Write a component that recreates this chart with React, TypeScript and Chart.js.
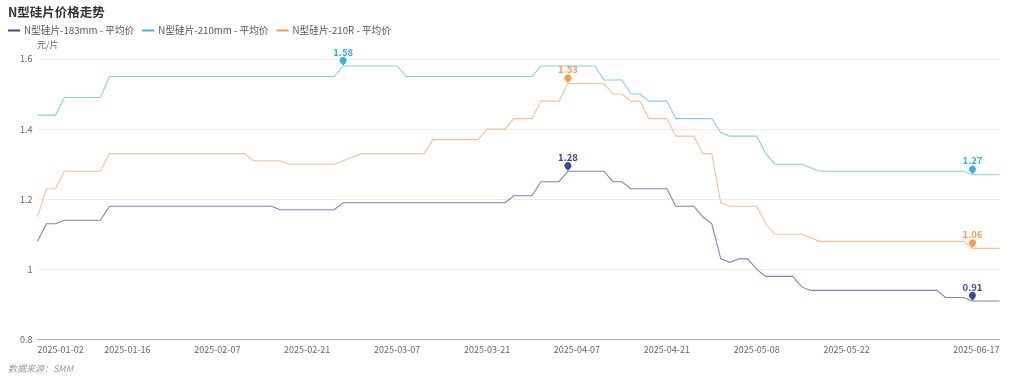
import React, { useEffect, useRef } from 'react';
import { Chart, registerables } from 'chart.js';

Chart.register(...registerables);

const FONT = '"Microsoft YaHei", "Noto Sans CJK SC", sans-serif';

const chartTitle = 'N型硅片价格走势';
const unitLabel = '元/片';
const sourceLabel = '数据来源：SMM';

const dates = [
  '2025-01-02', '2025-01-03', '2025-01-06', '2025-01-07', '2025-01-08', '2025-01-09', '2025-01-10',
  '2025-01-13', '2025-01-14', '2025-01-15', '2025-01-16', '2025-01-17', '2025-01-20', '2025-01-21',
  '2025-01-22', '2025-01-23', '2025-01-24', '2025-01-27',
  '2025-02-05', '2025-02-06', '2025-02-07', '2025-02-10', '2025-02-11', '2025-02-12', '2025-02-13',
  '2025-02-14', '2025-02-17', '2025-02-18', '2025-02-19', '2025-02-20', '2025-02-21', '2025-02-24',
  '2025-02-25', '2025-02-26', '2025-02-27', '2025-02-28',
  '2025-03-03', '2025-03-04', '2025-03-05', '2025-03-06', '2025-03-07', '2025-03-10', '2025-03-11',
  '2025-03-12', '2025-03-13', '2025-03-14', '2025-03-17', '2025-03-18', '2025-03-19', '2025-03-20',
  '2025-03-21', '2025-03-24', '2025-03-25', '2025-03-26', '2025-03-27', '2025-03-28', '2025-03-31',
  '2025-04-01', '2025-04-02', '2025-04-03', '2025-04-07', '2025-04-08', '2025-04-09', '2025-04-10',
  '2025-04-11', '2025-04-14', '2025-04-15', '2025-04-16', '2025-04-17', '2025-04-18', '2025-04-21',
  '2025-04-22', '2025-04-23', '2025-04-24', '2025-04-25', '2025-04-28', '2025-04-29', '2025-04-30',
  '2025-05-06', '2025-05-07', '2025-05-08', '2025-05-09', '2025-05-12', '2025-05-13', '2025-05-14',
  '2025-05-15', '2025-05-16', '2025-05-19', '2025-05-20', '2025-05-21', '2025-05-22', '2025-05-23',
  '2025-05-26', '2025-05-27', '2025-05-28', '2025-05-29', '2025-05-30',
  '2025-06-03', '2025-06-04', '2025-06-05', '2025-06-06', '2025-06-09', '2025-06-10', '2025-06-11',
  '2025-06-12', '2025-06-13', '2025-06-16', '2025-06-17',
];

const xTickLabels = [
  '2025-01-02', '2025-01-16', '2025-02-07', '2025-02-21', '2025-03-07', '2025-03-21',
  '2025-04-07', '2025-04-21', '2025-05-08', '2025-05-22', '2025-06-17',
];

const yTicks = [0.8, 1, 1.2, 1.4, 1.6];
const yTickLabels = ['0.8', '1', '1.2', '1.4', '1.6'];

const seriesNames = ['N型硅片-183mm - 平均价', 'N型硅片-210mm - 平均价', 'N型硅片-210R - 平均价'];

const price183 = [
  1.08, 1.13, 1.13, 1.14, 1.14, 1.14, 1.14, 1.14,
  1.18, 1.18, 1.18, 1.18, 1.18, 1.18, 1.18, 1.18, 1.18, 1.18, 1.18, 1.18, 1.18, 1.18, 1.18, 1.18, 1.18, 1.18, 1.18,
  1.17, 1.17, 1.17, 1.17, 1.17, 1.17, 1.17,
  1.19, 1.19, 1.19, 1.19, 1.19, 1.19, 1.19, 1.19, 1.19, 1.19, 1.19, 1.19, 1.19, 1.19, 1.19, 1.19, 1.19, 1.19, 1.19,
  1.21, 1.21, 1.21,
  1.25, 1.25, 1.25,
  1.28, 1.28, 1.28, 1.28, 1.28,
  1.25, 1.25,
  1.23, 1.23, 1.23, 1.23, 1.23,
  1.18, 1.18, 1.18,
  1.15, 1.13, 1.03, 1.02, 1.03, 1.03, 1.00,
  0.98, 0.98, 0.98, 0.98,
  0.95,
  0.94, 0.94, 0.94, 0.94, 0.94, 0.94, 0.94, 0.94, 0.94, 0.94, 0.94, 0.94, 0.94, 0.94, 0.94,
  0.92, 0.92, 0.92,
  0.91, 0.91, 0.91, 0.91,
];

const price210 = [
  1.44, 1.44, 1.44,
  1.49, 1.49, 1.49, 1.49, 1.49,
  1.55, 1.55, 1.55, 1.55, 1.55, 1.55, 1.55, 1.55, 1.55, 1.55, 1.55, 1.55, 1.55, 1.55, 1.55, 1.55, 1.55, 1.55, 1.55,
  1.55, 1.55, 1.55, 1.55, 1.55, 1.55, 1.55,
  1.58, 1.58, 1.58, 1.58, 1.58, 1.58, 1.58,
  1.55, 1.55, 1.55, 1.55, 1.55, 1.55, 1.55, 1.55, 1.55, 1.55, 1.55, 1.55, 1.55, 1.55, 1.55,
  1.58, 1.58, 1.58, 1.58, 1.58, 1.58, 1.58,
  1.54, 1.54, 1.54,
  1.50, 1.50,
  1.48, 1.48, 1.48,
  1.43, 1.43, 1.43, 1.43, 1.43,
  1.39,
  1.38, 1.38, 1.38, 1.38,
  1.33,
  1.30, 1.30, 1.30, 1.30,
  1.29,
  1.28, 1.28, 1.28, 1.28, 1.28, 1.28, 1.28, 1.28, 1.28, 1.28, 1.28, 1.28, 1.28, 1.28, 1.28, 1.28, 1.28,
  1.27, 1.27, 1.27, 1.27,
];

const price210R = [
  1.15,
  1.23, 1.23,
  1.28, 1.28, 1.28, 1.28, 1.28,
  1.33, 1.33, 1.33, 1.33, 1.33, 1.33, 1.33, 1.33, 1.33, 1.33, 1.33, 1.33, 1.33, 1.33, 1.33, 1.33,
  1.31, 1.31, 1.31, 1.31,
  1.30, 1.30, 1.30, 1.30, 1.30, 1.30,
  1.31, 1.32,
  1.33, 1.33, 1.33, 1.33, 1.33, 1.33, 1.33, 1.33,
  1.37, 1.37, 1.37, 1.37, 1.37, 1.37,
  1.40, 1.40, 1.40,
  1.43, 1.43, 1.43,
  1.48, 1.48, 1.48,
  1.53, 1.53, 1.53, 1.53, 1.53,
  1.50, 1.50,
  1.48, 1.48,
  1.43, 1.43, 1.43,
  1.38, 1.38, 1.38,
  1.33, 1.33,
  1.19,
  1.18, 1.18, 1.18, 1.18,
  1.13,
  1.10, 1.10, 1.10, 1.10,
  1.09,
  1.08, 1.08, 1.08, 1.08, 1.08, 1.08, 1.08, 1.08, 1.08, 1.08, 1.08, 1.08, 1.08, 1.08, 1.08, 1.08, 1.08,
  1.06, 1.06, 1.06, 1.06,
];

const seriesValues = [price183, price210, price210R];
const lineColors = ['#7c84b9', '#86cfe2', '#f6c094'];
const baseColors = ['#3d4a8f', '#3cb1d4', '#f59b52'];

const overlayPlugin = {
  id: 'overlayTexts',
  afterDraw(chart: any) {
    const ctx: CanvasRenderingContext2D = chart.ctx;
    ctx.save();
    // title
    ctx.font = `bold 12.5px ${FONT}`;
    ctx.fillStyle = '#333333';
    ctx.textAlign = 'left';
    ctx.textBaseline = 'middle';
    ctx.fillText(chartTitle, 8, 12.5);
    // legend
    ctx.font = `9.7px ${FONT}`;
    let x = 8;
    const ly = 30.5;
    seriesNames.forEach((name, i) => {
      ctx.strokeStyle = baseColors[i];
      ctx.lineWidth = 2;
      ctx.beginPath();
      ctx.moveTo(x, ly);
      ctx.lineTo(x + 12, ly);
      ctx.stroke();
      ctx.fillStyle = '#555555';
      ctx.fillText(name, x + 16, ly);
      x += 16 + ctx.measureText(name).width + 8;
    });
    // unit
    ctx.font = `9px ${FONT}`;
    ctx.fillStyle = '#666666';
    ctx.fillText(unitLabel, 37, 45);
    // source
    ctx.font = `italic 9px ${FONT}`;
    ctx.fillStyle = '#999999';
    ctx.fillText(sourceLabel, 8, 369);
    ctx.restore();
  },
  afterDatasetsDraw(chart: any) {
    const ctx: CanvasRenderingContext2D = chart.ctx;
    const xs = chart.scales.x;
    const ys = chart.scales.y;
    ctx.save();
    chart.data.datasets.forEach((ds: any, di: number) => {
      const vals = ds.data as number[];
      let maxI = 0;
      let minI = 0;
      vals.forEach((v, i) => {
        if (v > vals[maxI]) maxI = i;
        if (v < vals[minI]) minI = i;
      });
      [maxI, minI].forEach((i) => {
        const px = xs.getPixelForValue(i);
        const py = ys.getPixelForValue(vals[i]);
        const cy = py - 5.5;
        const r = 3.5;
        ctx.fillStyle = baseColors[di];
        ctx.beginPath();
        ctx.moveTo(px, py - 0.5);
        ctx.arc(px, cy, r, Math.PI * 0.78, Math.PI * 0.22);
        ctx.closePath();
        ctx.fill();
        ctx.font = `bold 9.5px ${FONT}`;
        ctx.textAlign = 'center';
        ctx.textBaseline = 'middle';
        ctx.fillText(vals[i].toFixed(2), px, py - 14);
      });
    });
    ctx.restore();
  },
};

export default function App() {
  const canvasRef = useRef<HTMLCanvasElement | null>(null);

  useEffect(() => {
    document.body.style.margin = '0';
    const canvas = canvasRef.current;
    if (!canvas) return;
    const chart = new Chart(canvas, {
      type: 'line',
      data: {
        labels: dates,
        datasets: seriesValues.map((vals, i) => ({
          label: seriesNames[i],
          data: vals,
          borderColor: lineColors[i],
          backgroundColor: lineColors[i],
          borderWidth: 1.1,
          pointRadius: 0,
          pointHoverRadius: 0,
          tension: 0,
          fill: false,
        })),
      },
      options: {
        responsive: false,
        animation: false,
        devicePixelRatio: 1,
        layout: { padding: { left: 0, right: 24.5, top: 59, bottom: 19.5 } },
        plugins: {
          legend: { display: false },
          tooltip: { enabled: false },
          title: { display: false },
        },
        scales: {
          x: {
            type: 'category',
            offset: false,
            grid: { display: false, drawTicks: false },
            border: { display: true, color: '#a9aeb8', width: 1 },
            ticks: {
              autoSkip: false,
              maxRotation: 0,
              minRotation: 0,
              align: 'inner',
              padding: 5,
              color: '#666666',
              font: { size: 9, family: FONT },
              callback: (_v: any, i: number) => (xTickLabels.includes(dates[i]) ? dates[i] : ''),
            },
            afterFit: (s: any) => {
              s.height = 20;
            },
          },
          y: {
            min: 0.8,
            max: 1.6,
            afterBuildTicks: (s: any) => {
              s.ticks = yTicks.map((v) => ({ value: v }));
            },
            grid: {
              drawTicks: false,
              lineWidth: 1,
              color: (c: any) => (c.tick && c.tick.value === yTicks[0] ? 'rgba(0,0,0,0)' : '#ececec'),
            },
            border: { display: false },
            ticks: {
              padding: 5,
              color: '#666666',
              font: { size: 9, family: FONT },
              callback: (v: any) => {
                const k = yTicks.findIndex((t) => Math.abs(t - Number(v)) < 1e-9);
                return k >= 0 ? yTickLabels[k] : '';
              },
            },
            afterFit: (s: any) => {
              s.width = 37.5;
            },
          },
        },
      },
      plugins: [overlayPlugin],
    });
    return () => chart.destroy();
  }, []);

  return (
    <div style={{ width: 1024, height: 379, background: '#ffffff' }}>
      <canvas ref={canvasRef} width={1024} height={379} style={{ display: 'block' }} />
    </div>
  );
}
